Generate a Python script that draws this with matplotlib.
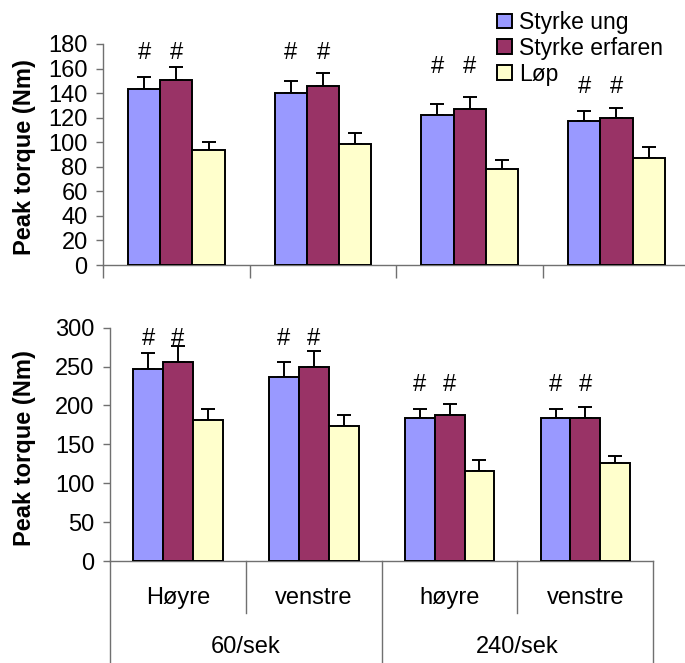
import matplotlib
matplotlib.use("Agg")
import matplotlib.pyplot as plt
import matplotlib.transforms as mtransforms
import numpy as np

plt.rcParams['font.family'] = ['Liberation Sans', 'DejaVu Sans']

# ---- data ----
categories = ['Høyre', 'venstre', 'høyre', 'venstre']
speed_groups = ['60/sek', '240/sek']
series = ['Styrke ung', 'Styrke erfaren', 'Løp']
colors = ['#9999FF', '#993366', '#FFFFCC']

# upper chart
ung_top = [143, 140, 122.5, 117]
ung_top_err = [10, 9.5, 8.5, 8.5]
erf_top = [150.5, 146, 127, 119.5]
erf_top_err = [10.5, 10.5, 10, 8.5]
lop_top = [94, 98.5, 78, 87]
lop_top_err = [6.5, 9, 7.5, 9]
hash_top = [172.5, 172.5, 161.5, 145]

# lower chart
ung_bot = [246.5, 237, 183.5, 183.5]
ung_bot_err = [21, 19, 12, 12]
erf_bot = [256, 249, 188, 183.5]
erf_bot_err = [20.5, 20.5, 14, 14]
lop_bot = [181, 174, 116, 125.5]
lop_bot_err = [14, 14, 14, 9.5]
hash_bot = [286, 286, 226, 226]

top_ticks = list(range(0, 181, 20))
bot_ticks = list(range(0, 301, 50))

W, H = 685, 663
fig = plt.figure(figsize=(W / 100, H / 100), dpi=100)

FS = 17
AXC = '#707070'
bw = 0.22

def draw(ax, vals, errs, hashes, ymax, ticks):
    x = np.arange(len(categories))
    for k, (v, e, c) in enumerate(zip(vals, errs, colors)):
        xs = x + (k - 1) * bw
        ax.bar(xs, v, width=bw, color=c, edgecolor='black', linewidth=1.4,
               zorder=3, label=series[k])
        ax.errorbar(xs, v, yerr=[np.zeros(len(v)), e], fmt='none',
                    ecolor='black', elinewidth=1.4, capsize=5, capthick=1.4,
                    zorder=2)
    for k in range(2):
        xs = x + (k - 1) * bw
        for xi, hy in zip(xs, hashes):
            ax.text(xi, hy, '#', ha='center', va='center', fontsize=17)
    ax.set_xlim(-0.5, len(categories) - 0.5)
    ax.set_ylim(0, ymax)
    ax.set_yticks(ticks)
    ax.tick_params(axis='y', direction='out', length=5, width=1,
                   color=AXC, labelsize=FS, pad=6)
    for s in ['top', 'right']:
        ax.spines[s].set_visible(False)
    for s in ['left', 'bottom']:
        ax.spines[s].set_color(AXC)
        ax.spines[s].set_linewidth(1)
    ax.set_ylabel('Peak torque (Nm)', fontsize=FS, fontweight='bold')
    ax.yaxis.label.set_va('center')

# top axes
t_left, t_w = 103 / W, 586.8 / W
t_bot, t_h = (H - 265) / H, 221 / H
ax1 = fig.add_axes([t_left, t_bot, t_w, t_h])
draw(ax1, [ung_top, erf_top, lop_top], [ung_top_err, erf_top_err, lop_top_err],
     hash_top, 180, top_ticks)
ax1.set_xticks(np.arange(-0.5, len(categories) + 0.5, 1.0))
ax1.set_xticklabels([])
ax1.tick_params(axis='x', direction='out', length=9.5, width=1, color=AXC)
ax1.yaxis.set_label_coords((25 - 103) / 586.8, 0.487)

# bottom axes
b_left, b_w = 110 / W, 543.3 / W
b_bot, b_h = (H - 561) / H, 233.3 / H
ax2 = fig.add_axes([b_left, b_bot, b_w, b_h])
draw(ax2, [ung_bot, erf_bot, lop_bot], [ung_bot_err, erf_bot_err, lop_bot_err],
     hash_bot, 300, bot_ticks)
ax2.set_xticks([])
ax2.yaxis.set_label_coords((25 - 110) / 543.3, 0.485)

# multi-level category axis for bottom chart
trans = mtransforms.blended_transform_factory(ax2.transData, ax2.transAxes)
px = 1.0 / 233.3
for i, lab in enumerate(categories):
    ax2.text(i, -37 * px, lab, transform=trans, ha='center', va='center',
             fontsize=FS)
for g, lab in enumerate(speed_groups):
    ax2.text(2 * g + 0.5, -86 * px, lab, transform=trans, ha='center',
             va='center', fontsize=FS)
for xs in [0.5, 2.5]:
    ax2.plot([xs, xs], [0, -52 * px], transform=trans, color=AXC, lw=1,
             clip_on=False)
for xs in [-0.5, 1.5, 3.5]:
    ax2.plot([xs, xs], [0, -110 * px], transform=trans, color=AXC, lw=1,
             clip_on=False)

# legend
h, l = ax1.get_legend_handles_labels()
fig.legend(h, l, loc='upper left', bbox_to_anchor=(497 / W, 1 - 11 / H),
           frameon=False, fontsize=16.5, handlelength=0.65, handleheight=0.6,
           handletextpad=0.3, labelspacing=0.12, borderpad=0, borderaxespad=0)

fig.savefig('out.png', dpi=100)
